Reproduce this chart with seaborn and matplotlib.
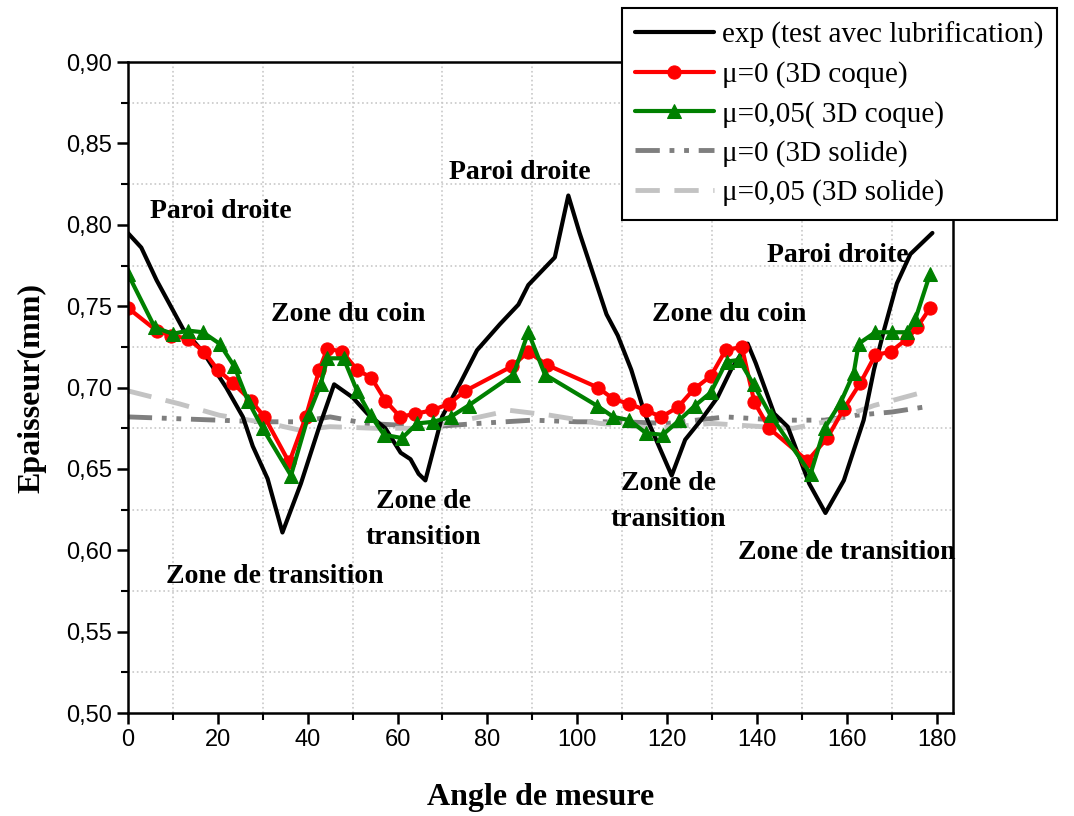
import numpy as np
import pandas as pd
import matplotlib
matplotlib.use("Agg")
import matplotlib.pyplot as plt
from matplotlib.ticker import MultipleLocator, FuncFormatter
import seaborn as sns

sns.set_style("ticks")
plt.rcParams['font.family'] = ['Liberation Sans', 'DejaVu Sans']
plt.rcParams['text.color'] = 'black'
plt.rcParams['axes.labelcolor'] = 'black'
plt.rcParams['xtick.color'] = 'black'
plt.rcParams['ytick.color'] = 'black'

# ---- data ----
angle_exp = [0, 3, 6.4, 12.3, 16.7, 21.9, 25.6, 27.8, 31.1, 34.4, 38.5, 42.6, 45.9, 50,
             53.3, 57.3, 60.7, 62.9, 64.7, 66.2, 69.9, 74, 77.7, 82.8, 86.9, 89.1, 95,
             98, 100.5, 103.5, 106.5, 109, 112, 115, 121, 124, 127.5, 131.2, 134.2,
             137.9, 139.7, 143.8, 146.8, 149, 151.6, 155.2, 159.3, 163.7, 166, 168.2,
             171.1, 174.1, 179]
thick_exp = [0.795, 0.786, 0.766, 0.736, 0.722, 0.700, 0.682, 0.664, 0.644, 0.611, 0.641,
             0.676, 0.702, 0.694, 0.684, 0.675, 0.660, 0.656, 0.647, 0.643, 0.682, 0.703,
             0.723, 0.739, 0.751, 0.763, 0.780, 0.818, 0.795, 0.770, 0.745, 0.732, 0.711,
             0.684, 0.646, 0.668, 0.680, 0.694, 0.711, 0.727, 0.715, 0.684, 0.676, 0.660,
             0.641, 0.623, 0.643, 0.680, 0.711, 0.735, 0.764, 0.782, 0.795]

angle_coque0 = [0, 6.4, 9.7, 13.4, 17, 20, 23.3, 27.4, 30.4, 35.9, 39.6, 42.6, 44.4, 47.7,
                51, 54.2, 57.3, 60.6, 64, 67.7, 71.4, 75.1, 85.4, 89.1, 93.2, 104.6, 108,
                111.6, 115.3, 118.7, 122.4, 125.9, 129.7, 133, 136.6, 139.4, 142.7, 151.2,
                155.6, 159.3, 163, 166.3, 169.7, 173.4, 175.6, 178.5]
thick_coque0 = [0.749, 0.735, 0.732, 0.730, 0.722, 0.711, 0.703, 0.692, 0.682, 0.654,
                0.682, 0.711, 0.724, 0.722, 0.711, 0.706, 0.692, 0.682, 0.684, 0.686,
                0.690, 0.698, 0.713, 0.722, 0.714, 0.700, 0.693, 0.690, 0.686, 0.682,
                0.688, 0.699, 0.707, 0.723, 0.725, 0.691, 0.675, 0.655, 0.669, 0.687,
                0.703, 0.720, 0.722, 0.730, 0.737, 0.749]

angle_coque05 = [0, 6, 10, 13.4, 16.7, 20.4, 23.7, 26.7, 30, 36.3, 40.3, 42.9, 44.4, 48,
                 51, 54, 57, 61, 64.4, 68, 71.8, 75.8, 85.8, 89.1, 92.8, 104.3, 108,
                 111.6, 115.3, 119, 122.7, 126.2, 129.7, 133.2, 136, 139.2, 143, 151.9,
                 155, 158.6, 161.5, 162.6, 166.3, 170, 173.4, 175.2, 178.5]
thick_coque05 = [0.770, 0.737, 0.733, 0.735, 0.734, 0.727, 0.713, 0.692, 0.675, 0.646,
                 0.684, 0.702, 0.718, 0.718, 0.698, 0.683, 0.671, 0.669, 0.678, 0.679,
                 0.682, 0.689, 0.708, 0.734, 0.708, 0.689, 0.682, 0.680, 0.672, 0.671,
                 0.680, 0.689, 0.697, 0.716, 0.717, 0.702, 0.683, 0.647, 0.675, 0.691,
                 0.709, 0.727, 0.734, 0.734, 0.734, 0.742, 0.770]

angle_solide0 = [0, 10, 20, 30, 38, 45, 53, 60, 68, 78, 90, 100, 110, 120, 133, 145, 155,
                 162, 170, 177]
thick_solide0 = [0.682, 0.681, 0.680, 0.679, 0.679, 0.682, 0.678, 0.677, 0.676, 0.678,
                 0.680, 0.679, 0.679, 0.678, 0.682, 0.680, 0.680, 0.683, 0.685, 0.688]

angle_solide05 = [0, 11.5, 20.4, 31.5, 38, 45, 55, 65, 75, 85, 94, 105, 117, 130, 141,
                  148, 157, 166, 178]
thick_solide05 = [0.698, 0.690, 0.683, 0.678, 0.674, 0.676, 0.675, 0.675, 0.680, 0.686,
                  0.683, 0.678, 0.675, 0.678, 0.676, 0.675, 0.680, 0.689, 0.698]

labels = ["exp (test avec lubrification)", "\u03bc=0 (3D coque)", "\u03bc=0,05( 3D coque)",
          "\u03bc=0 (3D solide)", "\u03bc=0,05 (3D solide)"]

# annotations: text, x, y
notes = [("Paroi droite", 20.8, 0.808), ("Zone du coin", 49, 0.745),
         ("Paroi droite", 87.3, 0.832), ("Zone du coin", 133.7, 0.745),
         ("Paroi droite", 158, 0.781), ("Zone de transition", 32.6, 0.584),
         ("Zone de\ntransition", 65.8, 0.619), ("Zone de\ntransition", 120.2, 0.630),
         ("Zone de transition", 160, 0.599)]

# ---- figure ----
fig = plt.figure(figsize=(10.74, 8.16), dpi=100)
ax = fig.add_axes([0.119, 0.126, 0.768, 0.798])

sns.lineplot(x=angle_solide0, y=thick_solide0, ax=ax, color="#7f7f7f", lw=3.5,
             linestyle=(0, (5, 2, 1, 2, 1, 2)), label=labels[3], sort=False, estimator=None)
sns.lineplot(x=angle_solide05, y=thick_solide05, ax=ax, color="#c3c3c3", lw=3.5,
             linestyle=(0, (5, 3)), label=labels[4], sort=False, estimator=None)
sns.lineplot(x=angle_exp, y=thick_exp, ax=ax, color="black", lw=3,
             label=labels[0], sort=False, estimator=None)
sns.lineplot(x=angle_coque0, y=thick_coque0, ax=ax, color="#ff0000", lw=3, marker="o",
             markersize=9.5, markeredgecolor="#ff0000", label=labels[1], sort=False,
             estimator=None)
sns.lineplot(x=angle_coque05, y=thick_coque05, ax=ax, color="#008000", lw=3, marker="^",
             markersize=10.5, markeredgecolor="#008000", label=labels[2], sort=False,
             estimator=None)

ax.set_xlim(0, 183.5)
ax.set_ylim(0.50, 0.90)
ax.xaxis.set_major_locator(MultipleLocator(20))
ax.xaxis.set_minor_locator(MultipleLocator(10))
ax.yaxis.set_major_locator(MultipleLocator(0.05))
ax.yaxis.set_minor_locator(MultipleLocator(0.025))
ax.yaxis.set_major_formatter(FuncFormatter(lambda v, p: f"{v:.2f}".replace(".", ",")))
ax.grid(False)
ax.grid(which="minor", color="#c8c8c8", linestyle=":", linewidth=1.2)
ax.tick_params(which="major", direction="out", length=8, width=1.8, labelsize=17)
ax.tick_params(which="minor", direction="out", length=5, width=1.5)
for s in ax.spines.values():
    s.set_linewidth(1.8)
    s.set_color("black")

ax.set_xlabel("Angle de mesure", family="Liberation Serif", fontweight="bold",
              fontsize=23, labelpad=23)
ax.set_ylabel("Epaisseur(mm)", family="Liberation Serif", fontweight="bold",
              fontsize=23, labelpad=14)

for txt, x, y in notes:
    ax.text(x, y, txt, family="Liberation Serif", fontweight="bold", fontsize=20,
            ha="center", va="center", linespacing=1.6)

# legend in the reference order
h, l = ax.get_legend_handles_labels()
order = [l.index(t) for t in labels]
leg = ax.legend([h[i] for i in order], [l[i] for i in order], loc="upper left",
                bbox_to_anchor=(0.579, 0.99), bbox_transform=fig.transFigure,
                prop={"family": "Liberation Serif", "size": 21}, frameon=True,
                fancybox=False, edgecolor="black", framealpha=1, handlelength=2.7,
                handletextpad=0.3, labelspacing=0.43, borderpad=0.45, borderaxespad=0)
leg.get_frame().set_linewidth(1.5)

fig.savefig("out.png", dpi=100)
